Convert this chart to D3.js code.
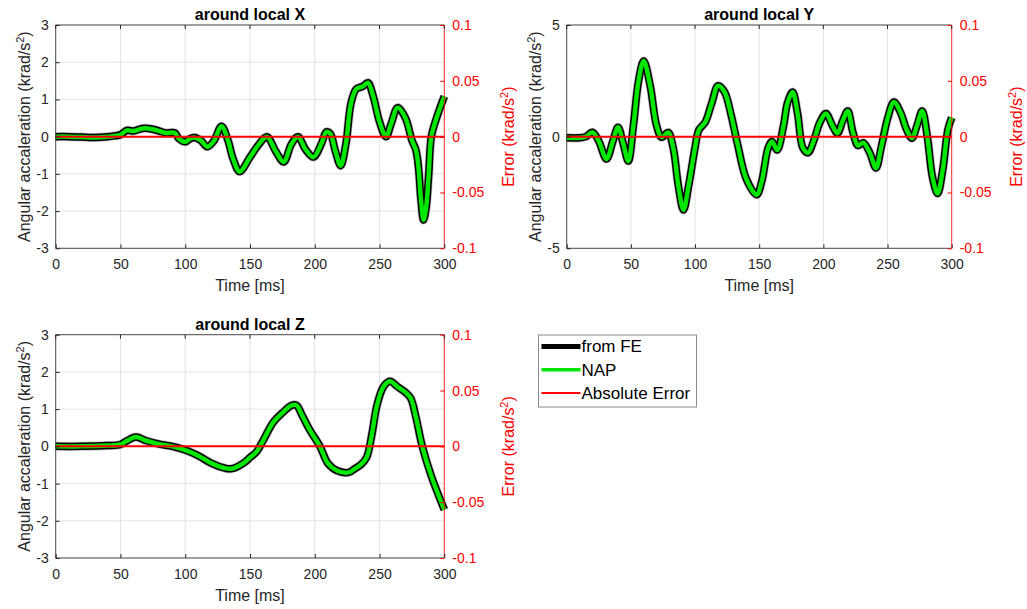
<!DOCTYPE html>
<html>
<head>
<meta charset="utf-8">
<script src="https://cdn.jsdelivr.net/npm/d3@7"></script>
<style>
  body { margin: 0; background: #fff; }
  svg text { font-family: "Liberation Sans", Arial, Helvetica, sans-serif; }
</style>
</head>
<body>
<svg id="chart" width="1027" height="609"></svg>
<script>
// time axis ticks (ms)
var timeTicks = [0, 50, 100, 150, 200, 250, 300];
var errTicks = [-0.1, -0.05, 0, 0.05, 0.1];

// around local X
var timeX = [0,10,20,30,40,45,50,55,60,67,75,80,85,92,95,100,104,107,112,117,122,128,133,137,142,150,157,163,170,176,182,187,193,199,205,209,212,216,220,224,228,232,237,241,245,250,255,259,264,270,275,278,280,282,284,286,288,290,294,300];
var accX = [0,0,-0.01,-0.02,0,0.02,0.05,0.17,0.15,0.22,0.2,0.15,0.1,0.1,-0.05,-0.14,-0.05,-0.02,-0.1,-0.27,-0.12,0.28,-0.1,-0.6,-0.94,-0.55,-0.2,0.0,-0.4,-0.68,-0.2,0.0,-0.35,-0.55,-0.2,0.13,0.08,-0.4,-0.78,-0.2,0.9,1.28,1.35,1.45,1.1,0.4,0.0,0.35,0.78,0.5,-0.1,-0.35,-0.8,-1.7,-2.24,-1.9,-1.0,0.0,0.5,1.08];
var ticksX = [-3, -2, -1, 0, 1, 2, 3];

// around local Y
var timeY = [0,10,15,20,25,31,36,40,44,48,52,56,60,65,70,74,79,83,87,91,95,100,103,108,113,118,123,128,133,140,148,152,157,160,164,169,172,176,180,184,188,193,197,202,207,211,215,219,223,227,231,236,241,245,250,255,260,265,269,273,277,281,285,289,293,297,300];
var accY = [-0.05,-0.05,0,0.2,-0.2,-1.0,-0.2,0.42,-0.3,-1.09,0.5,2.5,3.39,2.3,0.5,-0.03,0.19,-0.5,-2.2,-3.28,-2.2,-0.5,0.3,0.65,1.5,2.28,2.0,1.0,-0.3,-1.9,-2.6,-2.0,-0.5,-0.22,-0.6,0.5,1.5,2.0,1.0,-0.5,-0.72,-0.1,0.6,1.04,0.5,0.15,0.7,1.15,0.2,-0.4,-0.27,-0.7,-1.4,-0.5,0.8,1.55,1.1,0.3,-0.07,0.5,1.15,0.0,-1.8,-2.55,-1.5,0.3,0.85];
var ticksY = [-5, 0, 5];

// around local Z
var timeZ = [0,20,40,50,55,62,70,80,90,100,110,120,130,136,145,150,155,160,168,175,182,186,190,196,204,210,217,226,231,236,240,244,248,253,258,264,270,274,278,283,290,300];
var accZ = [0,0,0.02,0.05,0.15,0.25,0.15,0.06,0.0,-0.1,-0.25,-0.45,-0.58,-0.6,-0.45,-0.3,-0.15,0.15,0.65,0.9,1.1,1.1,0.85,0.45,0.0,-0.45,-0.65,-0.7,-0.6,-0.48,-0.3,0.3,1.1,1.6,1.75,1.6,1.45,1.3,0.8,0.0,-0.8,-1.7];
var ticksZ = [-3, -2, -1, 0, 1, 2, 3];

// absolute error between FE and NAP (flat at zero)
var errTime = [0, 50, 100, 150, 200, 250, 300];
var errVal = [0, 0, 0, 0, 0, 0, 0];

var legendNames = ['from FE', 'NAP', 'Absolute Error'];

var svg = d3.select("#chart");
var axisColor = '#262626';

// plain hyphen for negatives, like the original figure
function fmt(d){ return String(d); }

function drawPanel(cfg){
  var g = svg.append("g").attr("transform", "translate(" + cfg.left + "," + cfg.top + ")");
  var w = cfg.width, h = cfg.height;

  var x = d3.scaleLinear().domain([0, 300]).range([0, w]);
  var y = d3.scaleLinear().domain(cfg.yDomain).range([h, 0]);
  var yErr = d3.scaleLinear().domain([-0.1, 0.1]).range([h, 0]);

  // grid
  g.selectAll(".gx").data(timeTicks).enter().append("line")
    .attr("x1", function(d){ return x(d); }).attr("x2", function(d){ return x(d); })
    .attr("y1", 0).attr("y2", h)
    .style("stroke", "#e3e3e3").style("stroke-width", 1);
  g.selectAll(".gy").data(cfg.ticks).enter().append("line")
    .attr("x1", 0).attr("x2", w)
    .attr("y1", function(d){ return y(d); }).attr("y2", function(d){ return y(d); })
    .style("stroke", "#e3e3e3").style("stroke-width", 1);

  // curves
  var line = d3.line()
    .x(function(d){ return x(d[0]); })
    .y(function(d){ return y(d[1]); })
    .curve(d3.curveCatmullRom.alpha(0.5));
  var pts = d3.zip(cfg.time, cfg.acc);

  g.append("path").datum(pts).attr("d", line)
    .style("fill", "none").style("stroke", "#9a9a9a").style("stroke-width", 9)
    .style("stroke-opacity", 0.6).style("stroke-linejoin", "round");
  g.append("path").datum(pts).attr("d", line)
    .style("fill", "none").style("stroke", "#000").style("stroke-width", 7.5)
    .style("stroke-linejoin", "round");
  g.append("path").datum(pts).attr("d", line)
    .style("fill", "none").style("stroke", "#00e600").style("stroke-width", 4.5)
    .style("stroke-linejoin", "round");

  var errLine = d3.line()
    .x(function(d){ return x(d[0]); })
    .y(function(d){ return yErr(d[1]); });
  g.append("path").datum(d3.zip(errTime, errVal)).attr("d", errLine)
    .style("fill", "none").style("stroke", "#ff0000").style("stroke-width", 2);

  // box
  g.append("line").attr("x1", 0).attr("x2", w).attr("y1", 0).attr("y2", 0)
    .style("stroke", axisColor).style("stroke-width", 0.8);
  g.append("line").attr("x1", 0).attr("x2", w).attr("y1", h).attr("y2", h)
    .style("stroke", axisColor).style("stroke-width", 0.8);
  g.append("line").attr("x1", 0).attr("x2", 0).attr("y1", 0).attr("y2", h)
    .style("stroke", axisColor).style("stroke-width", 0.8);
  g.append("line").attr("x1", w).attr("x2", w).attr("y1", 0).attr("y2", h)
    .style("stroke", "#ff0000").style("stroke-width", 0.8);

  // bottom axis (ticks inward)
  var xAxis = d3.axisBottom(x).tickValues(timeTicks).tickSize(-4).tickPadding(11).tickFormat(fmt);
  var xa = g.append("g").attr("transform", "translate(0," + h + ")").call(xAxis);
  xa.select(".domain").remove();
  xa.selectAll("line").style("stroke", axisColor);
  xa.selectAll("text").style("font-size", "14px").style("fill", axisColor);

  // top ticks
  g.selectAll(".tt").data(timeTicks).enter().append("line")
    .attr("x1", function(d){ return x(d); }).attr("x2", function(d){ return x(d); })
    .attr("y1", 0).attr("y2", 4).style("stroke", axisColor);

  // left axis
  var yAxis = d3.axisLeft(y).tickValues(cfg.ticks).tickSize(-4).tickPadding(7).tickFormat(fmt);
  var ya = g.append("g").call(yAxis);
  ya.select(".domain").remove();
  ya.selectAll("line").style("stroke", axisColor);
  ya.selectAll("text").style("font-size", "14px").style("fill", axisColor);

  // right axis in red
  var rAxis = d3.axisRight(yErr).tickValues(errTicks).tickSize(-4).tickPadding(8).tickFormat(fmt);
  var ra = g.append("g").attr("transform", "translate(" + w + ",0)").call(rAxis);
  ra.select(".domain").remove();
  ra.selectAll("line").style("stroke", "#ff0000");
  ra.selectAll("text").style("font-size", "14px").style("fill", "#ff0000");

  // title
  g.append("text").attr("x", w / 2).attr("y", -5)
    .attr("text-anchor", "middle")
    .style("font-size", "16px").style("font-weight", "bold").style("fill", "#000")
    .text(cfg.title);

  // x label
  g.append("text").attr("x", w / 2).attr("y", h + 43)
    .attr("text-anchor", "middle")
    .style("font-size", "16px").style("fill", axisColor)
    .text("Time [ms]");

  // left label
  var ll = g.append("text")
    .attr("transform", "translate(-26," + (h / 2) + ") rotate(-90)")
    .attr("text-anchor", "middle")
    .style("font-size", "16px").style("fill", axisColor);
  ll.append("tspan").text("Angular accaleration (krad/s");
  ll.append("tspan").attr("dy", -6).style("font-size", "11px").text("2");
  ll.append("tspan").attr("dy", 6).text(")");

  // right label
  var rl = g.append("text")
    .attr("transform", "translate(" + (w + 70) + "," + (h / 2) + ") rotate(-90)")
    .attr("text-anchor", "middle")
    .style("font-size", "16px").style("fill", "#ff0000");
  rl.append("tspan").text("Error (krad/s");
  rl.append("tspan").attr("dy", -6).style("font-size", "11px").text("2");
  rl.append("tspan").attr("dy", 6).text(")");
}

drawPanel({left: 55.7, top: 25, width: 388.6, height: 223.3, yDomain: [-3, 3], ticks: ticksX,
  time: timeX, acc: accX, title: "around local X"});
drawPanel({left: 566.7, top: 25, width: 385, height: 223.3, yDomain: [-5, 5], ticks: ticksY,
  time: timeY, acc: accY, title: "around local Y"});
drawPanel({left: 55.7, top: 334.7, width: 388.6, height: 223.3, yDomain: [-3, 3], ticks: ticksZ,
  time: timeZ, acc: accZ, title: "around local Z"});

// legend
var leg = svg.append("g").attr("transform", "translate(538.5,335)");
leg.append("rect").attr("width", 158).attr("height", 72)
  .style("fill", "#fff").style("stroke", "#8a8a8a").style("stroke-width", 1);
var legStyles = [{c: '#000', w: 5}, {c: '#00e600', w: 3.5}, {c: '#ff0000', w: 2}];
var rows = leg.selectAll(".row").data(legendNames).enter().append("g")
  .attr("transform", function(d, i){ return "translate(0," + (11.5 + i * 23.3) + ")"; });
rows.append("line").attr("x1", 3).attr("x2", 42).attr("y1", 0).attr("y2", 0)
  .style("stroke", function(d, i){ return legStyles[i].c; })
  .style("stroke-width", function(d, i){ return legStyles[i].w; });
rows.append("text").attr("x", 43).attr("y", 0).attr("dy", "0.35em")
  .style("font-size", "17px").style("fill", "#000")
  .text(function(d){ return d; });
</script>
</body>
</html>
